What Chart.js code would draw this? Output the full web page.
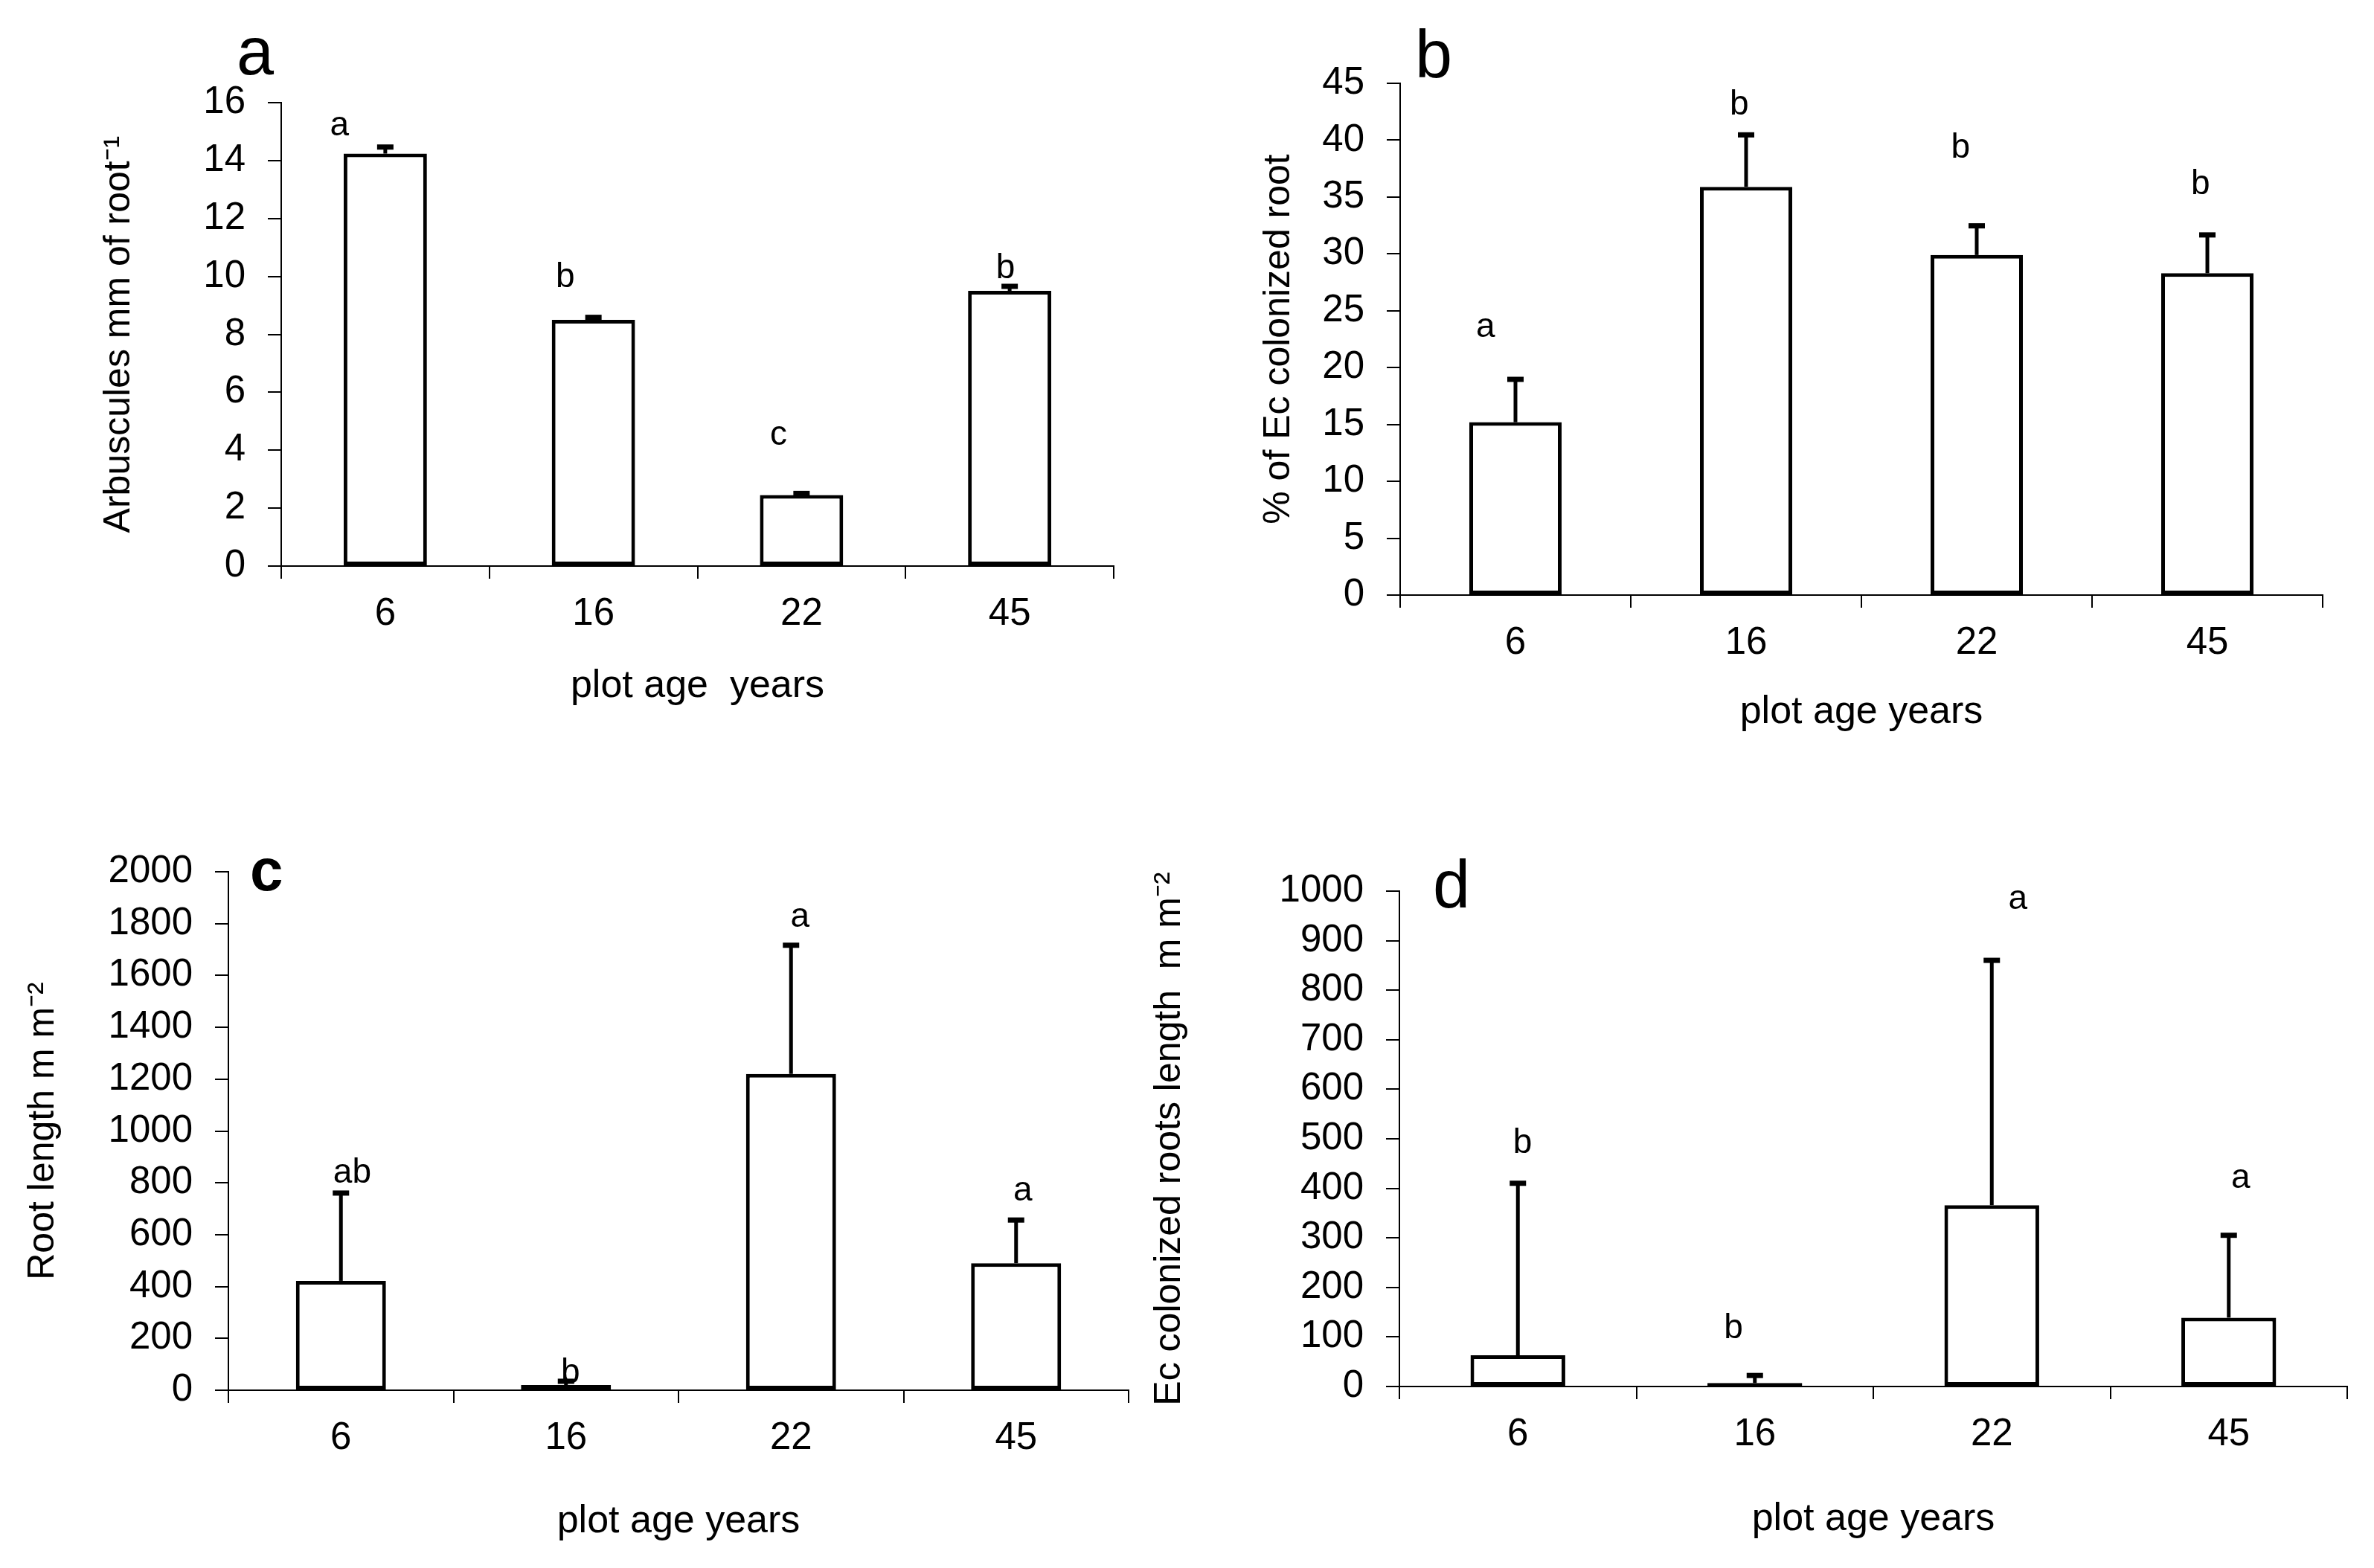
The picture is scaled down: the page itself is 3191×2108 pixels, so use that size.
<!DOCTYPE html>
<html lang="en">
<head>
<meta charset="UTF-8">
<title>Root colonization by plot age</title>
<script src="https://cdn.jsdelivr.net/npm/chart.js@4"></script>
</head>
<body style="margin:0; background:#fff; width:3191px; height:2108px; position:relative; overflow:hidden;">
<canvas id="chartA" width="1580" height="1000" style="position:absolute; left:0; top:0;"></canvas>
<canvas id="chartB" width="1591" height="1050" style="position:absolute; left:1600px; top:0;"></canvas>
<canvas id="chartC" width="1580" height="1048" style="position:absolute; left:0; top:1060px;"></canvas>
<canvas id="chartD" width="1691" height="1048" style="position:absolute; left:1500px; top:1060px;"></canvas>

<script>
const ages = ['6', '16', '22', '45'];

// a - arbuscules
const arbMean = [14.24, 8.5, 2.45, 9.5];
const arbSe = [0.24, 0.1, 0.07, 0.17];
const arbLetters = ['a', 'b', 'c', 'b'];
const arbLetterY = [15.2, 9.95, 4.5, 10.27];

// b - % Ec colonized root
const ecPctMean = [15.2, 35.9, 29.9, 28.3];
const ecPctSe = [3.8, 4.6, 2.6, 3.4];
const ecPctLetters = ['a', 'b', 'b', 'b'];
const ecPctLetterY = [23.5, 43.1, 39.3, 36.1];

// c - root length
const rootMean = [422, 20, 1220, 490];
const rootSe = [340, 16, 498, 168];
const rootLetters = ['ab', 'b', 'a', 'a'];
const rootLetterY = [836, 64, 1823, 769];

// d - Ec colonized roots length
const ecLenMean = [63, 7, 366, 139];
const ecLenSe = [348, 16, 495, 167];
const ecLenLetters = ['b', 'b', 'a', 'a'];
const ecLenLetterY = [491, 116, 983, 420];

const FONT = '"Liberation Sans", Arial, sans-serif';

// error bars, significance letters and the panel letter
Chart.register({
    id: 'extras',
    afterDatasetsDraw(chart, args, opts) {
        if (!opts.se) return;
        const ctx = chart.ctx;
        const xs = chart.scales.x, ys = chart.scales.y;
        const bars = chart.getDatasetMeta(0).data;
        const mean = chart.data.datasets[0].data;
        const step = xs.getPixelForValue(1) - xs.getPixelForValue(0);
        ctx.save();
        ctx.fillStyle = '#000';
        ctx.strokeStyle = '#000';
        opts.se.forEach((e, i) => {
            const x = bars[i].x;
            const y0 = ys.getPixelForValue(mean[i]);
            const y1 = ys.getPixelForValue(mean[i] + e);
            ctx.lineWidth = 5;
            ctx.beginPath();
            ctx.moveTo(x, y0);
            ctx.lineTo(x, y1);
            ctx.stroke();
            ctx.fillRect(x - 11, y1 - 3, 22, 7);
        });
        ctx.font = '46px ' + FONT;
        ctx.textAlign = 'center';
        ctx.textBaseline = 'middle';
        opts.letters.forEach((t, i) => {
            const x = xs.getPixelForValue(i) + opts.shift[i] * step;
            ctx.fillText(t, x, ys.getPixelForValue(opts.letterY[i]));
        });
        ctx.font = (opts.tagBold ? 'bold ' : '') + opts.tagSize + 'px ' + FONT;
        ctx.textAlign = 'left';
        ctx.textBaseline = 'alphabetic';
        ctx.fillText(opts.tag, opts.tagX, opts.tagY);
        ctx.restore();
    }
});

function makePanel(id, p) {
    new Chart(document.getElementById(id), {
        type: 'bar',
        data: {
            labels: ages,
            datasets: [{
                data: p.mean,
                backgroundColor: '#fff',
                borderColor: '#000',
                borderWidth: 5,
                borderSkipped: false,
                barPercentage: 0.4,
                categoryPercentage: 1
            }]
        },
        options: {
            responsive: false,
            animation: false,
            devicePixelRatio: 1,
            layout: { padding: { top: p.padTop, right: p.padRight, left: 0, bottom: 0 } },
            plugins: {
                legend: { display: false },
                tooltip: { enabled: false },
                extras: {
                    se: p.se, letters: p.letters, letterY: p.letterY, shift: p.shift,
                    tag: p.tag, tagX: p.tagX, tagY: p.tagY, tagSize: p.tagSize, tagBold: p.tagBold
                }
            },
            scales: {
                x: {
                    grid: { drawOnChartArea: false, drawTicks: true, tickLength: 17, color: '#000', lineWidth: 2, offset: true },
                    border: { display: true, color: '#000', width: 2 },
                    ticks: { color: '#000', font: { family: FONT, size: 51 }, padding: 17, maxRotation: 0, minRotation: 0 },
                    title: { display: true, text: p.xTitle, color: '#000', font: { family: FONT, size: 52 }, padding: { top: 0, bottom: p.xTitlePad } },
                    afterFit: s => { s.height = p.xH; }
                },
                y: {
                    min: 0, max: p.max,
                    ticks: { stepSize: p.step, color: '#000', font: { family: FONT, size: 51 }, padding: 30, callback: v => String(v) },
                    grid: { drawOnChartArea: false, drawTicks: true, tickLength: 18, color: '#000', lineWidth: 2 },
                    border: { display: true, color: '#000', width: 2 },
                    title: { display: true, text: p.yTitle, color: '#000', font: { family: FONT, size: 50 }, padding: { top: p.yTitlePad, bottom: 0 } },
                    afterFit: s => { s.width = p.yW; }
                }
            }
        }
    });
}

makePanel('chartA', {
    mean: arbMean, se: arbSe, letters: arbLetters, letterY: arbLetterY,
    shift: [-0.22, -0.135, -0.11, -0.02],
    max: 16, step: 2,
    yTitle: 'Arbuscules mm of root\u207B\u00B9', xTitle: 'plot age  years',
    padTop: 138, padRight: 83, yW: 378, xH: 239, yTitlePad: 130, xTitlePad: 46,
    tag: 'a', tagX: 318, tagY: 100, tagSize: 90, tagBold: false
});

makePanel('chartB', {
    mean: ecPctMean, se: ecPctSe, letters: ecPctLetters, letterY: ecPctLetterY,
    shift: [-0.13, -0.03, -0.07, -0.03],
    max: 45, step: 5,
    yTitle: '% of Ec colonized root', xTitle: 'plot age years',
    padTop: 112, padRight: 69, yW: 282, xH: 250, yTitlePad: 89, xTitlePad: 61,
    tag: 'b', tagX: 302, tagY: 104, tagSize: 90, tagBold: false
});

makePanel('chartC', {
    mean: rootMean, se: rootSe, letters: rootLetters, letterY: rootLetterY,
    shift: [0.05, 0.02, 0.04, 0.03],
    max: 2000, step: 200,
    yTitle: 'Root length m m\u207B\u00B2', xTitle: 'plot age years',
    padTop: 112, padRight: 63, yW: 307, xH: 239, yTitlePad: 28, xTitlePad: 31,
    tag: 'c', tagX: 336, tagY: 137, tagSize: 80, tagBold: true
});

makePanel('chartD', {
    mean: ecLenMean, se: ecLenSe, letters: ecLenLetters, letterY: ecLenLetterY,
    shift: [0.02, -0.09, 0.11, 0.05],
    max: 1000, step: 100,
    yTitle: 'Ec colonized roots length  m m\u207B\u00B2', xTitle: 'plot age years',
    padTop: 138, padRight: 36, yW: 381, xH: 244, yTitlePad: 42, xTitlePad: 34,
    tag: 'd', tagX: 426, tagY: 160, tagSize: 90, tagBold: false
});
</script>
</body>
</html>
